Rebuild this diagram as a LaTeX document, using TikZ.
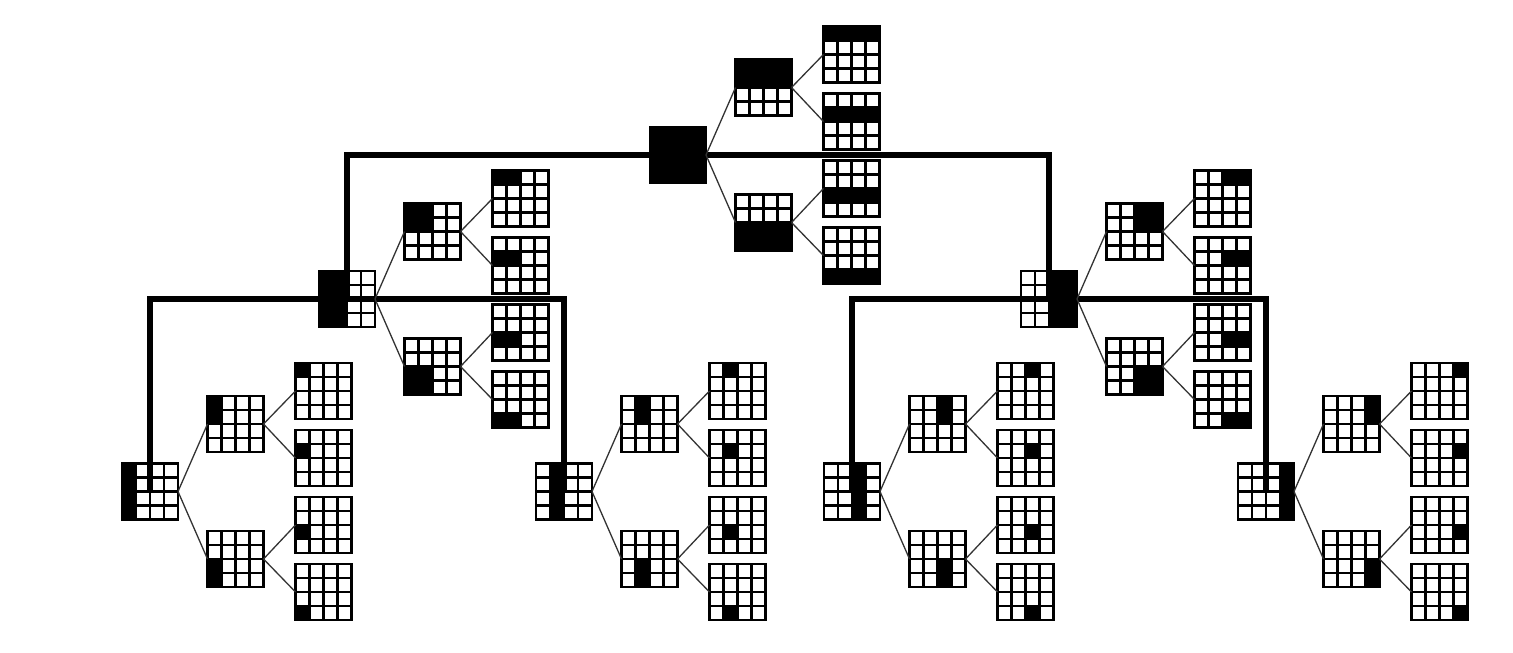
\documentclass[tikz,border=0pt]{standalone}
\usetikzlibrary{calc,backgrounds}
\tikzset{
  gbox/.style={rectangle, minimum size=56pt, inner sep=0pt, outer sep=0pt, draw=none},
  gline/.style={line width=2.1pt, black},
  thinlink/.style={line width=1.3pt, black!80},
  trunk/.style={line width=5.5pt, black, line join=miter},
}
\newcommand{\qbox}[5]{%
  \node[gbox] (#1) at (#2,#3) {};
  \foreach \qr in {#4}{\foreach \qc in {#5}{%
    \fill ($(#1.north west)+(\qc*14,\qr*14)$) rectangle ++(14,14);}}
  \foreach \qi in {1,2,3}{%
    \draw[gline] ($(#1.north west)+(\qi*14,0)$) -- ++(0,56);
    \draw[gline] ($(#1.north west)+(0,\qi*14)$) -- ++(56,0);}
  \draw[gline] (#1.north west) rectangle (#1.south east);
}
\newcommand{\qgroup}[4]{%
  \qbox{#1}{#2}{#3}{0,1,2,3}{#4}
  \qbox{#1a}{{#2+85.5}}{{#3-67.5}}{0,1}{#4}
  \qbox{#1b}{{#2+85.5}}{{#3+67.5}}{2,3}{#4}
  \qbox{#1x}{{#2+173.5}}{{#3-100.5}}{0}{#4}
  \qbox{#1y}{{#2+173.5}}{{#3-33.5}}{1}{#4}
  \qbox{#1z}{{#2+173.5}}{{#3+33.5}}{2}{#4}
  \qbox{#1w}{{#2+173.5}}{{#3+100.5}}{3}{#4}
  \draw[thinlink] (#1.east) -- (#1a.west);
  \draw[thinlink] (#1.east) -- (#1b.west);
  \draw[thinlink] (#1a.east) -- (#1x.west);
  \draw[thinlink] (#1a.east) -- (#1y.west);
  \draw[thinlink] (#1b.east) -- (#1z.west);
  \draw[thinlink] (#1b.east) -- (#1w.west);
}
\begin{document}
\begin{tikzpicture}[x=1pt,y=-1pt]
\useasboundingbox (0,0) rectangle (1513,653);
\qgroup{T}{678}{155}{0,1,2,3}
\qgroup{L}{347}{299}{0,1}
\qgroup{R}{1049}{299}{2,3}
\qgroup{A}{150}{491.5}{0}
\qgroup{B}{564}{491.5}{1}
\qgroup{C}{852}{491.5}{2}
\qgroup{D}{1266}{491.5}{3}
\begin{pgfonlayer}{background}
\fill[white] (0,0) rectangle (1513,653);
\draw[trunk] (L.center) -- (L.center |- T.center) -- (R.center |- T.center) -- (R.center);
\draw[trunk] (A.center) -- (A.center |- L.center) -- (B.center |- L.center) -- (B.center);
\draw[trunk] (C.center) -- (C.center |- R.center) -- (D.center |- R.center) -- (D.center);
\end{pgfonlayer}
\end{tikzpicture}
\end{document}
